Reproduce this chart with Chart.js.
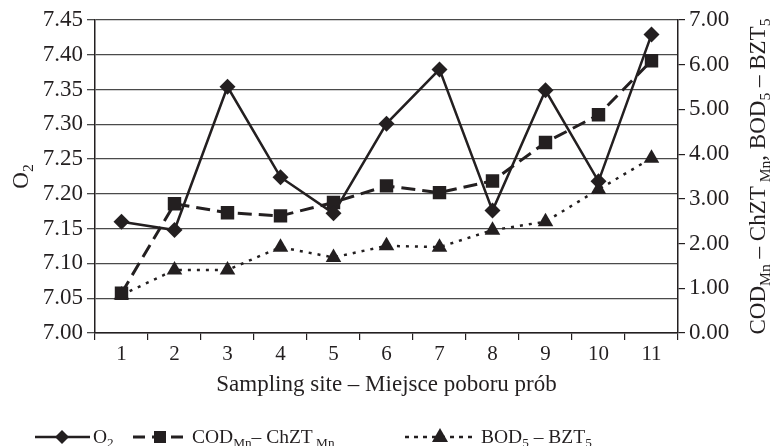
<!DOCTYPE html>
<html>
<head>
<meta charset="utf-8">
<script src="https://cdn.jsdelivr.net/npm/chart.js@4/dist/chart.umd.min.js"></script>
<style>
  html, body { margin: 0; padding: 0; background: #fff; }
  #wrap { width: 778px; height: 446px; position: relative; }
</style>
</head>
<body>
<div id="wrap"><canvas id="chart"></canvas></div>
<script>
// sampling sites 1..11
const sites = ['1', '2', '3', '4', '5', '6', '7', '8', '9', '10', '11'];
// O2 (left axis)
const o2 = [7.160, 7.148, 7.354, 7.224, 7.172, 7.301, 7.379, 7.176, 7.349, 7.218, 7.429];
// COD_Mn - ChZT_Mn (right axis)
const cod = [0.89, 2.89, 2.69, 2.62, 2.92, 3.29, 3.14, 3.40, 4.26, 4.88, 6.09];
// BOD5 - BZT5 (right axis)
const bod = [0.85, 1.41, 1.41, 1.92, 1.69, 1.95, 1.92, 2.30, 2.49, 3.21, 3.91];
// axis ticks
const leftTicks = [7.00, 7.05, 7.10, 7.15, 7.20, 7.25, 7.30, 7.35, 7.40, 7.45];
const rightTicks = [0, 1, 2, 3, 4, 5, 6, 7];

const INK = '#231f20';
const FONT = 'Liberation Serif';
const FS = 23;      // axis text
const LFS = 19.5;   // legend text

// draw text made of [text, isSubscript] parts
function richWidth(ctx, parts, size) {
    let w = 0;
    parts.forEach(p => {
        ctx.font = (p[1] ? size * 0.68 : size) + 'px "' + FONT + '"';
        w += ctx.measureText(p[0]).width;
    });
    return w;
}
function drawRich(ctx, parts, x, y, size, align) {
    let cx = align === 'center' ? x - richWidth(ctx, parts, size) / 2 : x;
    ctx.textAlign = 'left';
    ctx.textBaseline = 'alphabetic';
    ctx.fillStyle = INK;
    parts.forEach(p => {
        ctx.font = (p[1] ? size * 0.68 : size) + 'px "' + FONT + '"';
        ctx.fillText(p[0], cx, p[1] ? y + size * 0.22 : y);
        cx += ctx.measureText(p[0]).width;
    });
}
function marker(ctx, style, x, y) {
    ctx.save();
    ctx.fillStyle = INK;
    ctx.setLineDash([]);
    ctx.beginPath();
    if (style === 'diamond') {
        ctx.moveTo(x, y - 7); ctx.lineTo(x + 7, y); ctx.lineTo(x, y + 7); ctx.lineTo(x - 7, y);
    } else if (style === 'square') {
        ctx.rect(x - 6, y - 6, 12, 12);
    } else {
        ctx.moveTo(x, y - 9); ctx.lineTo(x + 8, y + 5); ctx.lineTo(x - 8, y + 5);
    }
    ctx.closePath();
    ctx.fill();
    ctx.restore();
}

const titlesAndLegend = {
    id: 'titlesAndLegend',
    afterDraw(chart) {
        const ctx = chart.ctx;
        const area = chart.chartArea;
        const midY = (area.top + area.bottom) / 2;
        ctx.save();
        // left axis title
        ctx.translate(28, midY);
        ctx.rotate(-Math.PI / 2);
        drawRich(ctx, [['O', false], ['2', true]], 0, 0, FS, 'center');
        ctx.restore();

        // right axis title
        ctx.save();
        ctx.translate(765, midY);
        ctx.rotate(-Math.PI / 2);
        drawRich(ctx, [['COD', false], ['Mn', true], [' – ChZT', false], [' Mn', true],
            [', BOD', false], ['5', true], [' – BZT', false], ['5', true]], 0, 0, FS, 'center');
        ctx.restore();

        // x axis title
        ctx.save();
        drawRich(ctx, [['Sampling site – Miejsce poboru prób', false]],
            (area.left + area.right) / 2, 391, FS, 'center');
        ctx.restore();

        // legend
        const ly = 437;
        ctx.save();
        ctx.strokeStyle = INK;
        ctx.lineWidth = 2.5;
        ctx.beginPath(); ctx.moveTo(35, ly); ctx.lineTo(90, ly); ctx.stroke();
        marker(ctx, 'diamond', 62, ly);
        drawRich(ctx, [['O', false], ['2', true]], 93, ly + 6, LFS, 'left');

        ctx.lineWidth = 3;
        ctx.setLineDash([12, 7]);
        ctx.beginPath(); ctx.moveTo(133, ly); ctx.lineTo(190, ly); ctx.stroke();
        marker(ctx, 'square', 160, ly);
        drawRich(ctx, [['COD', false], ['Mn', true], ['– ChZT', false], [' Mn', true]], 192, ly + 6, LFS, 'left');

        ctx.lineWidth = 2.5;
        ctx.setLineDash([4, 5]);
        ctx.beginPath(); ctx.moveTo(405, ly); ctx.lineTo(475, ly); ctx.stroke();
        marker(ctx, 'triangle', 440, ly);
        drawRich(ctx, [['BOD', false], ['5', true], [' – BZT', false], ['5', true]], 481, ly + 6, LFS, 'left');
        ctx.restore();
    }
};

new Chart(document.getElementById('chart'), {
    type: 'line',
    data: {
        labels: sites,
        datasets: [{
            label: 'O2',
            data: o2,
            yAxisID: 'y',
            borderColor: INK,
            backgroundColor: INK,
            borderWidth: 2.5,
            pointStyle: 'rectRot',
            pointRadius: 8,
            pointBorderWidth: 0,
            tension: 0
        }, {
            label: 'CODMn - ChZTMn',
            data: cod,
            yAxisID: 'y1',
            borderColor: INK,
            backgroundColor: INK,
            borderWidth: 3,
            borderDash: [14, 7],
            pointStyle: 'rect',
            pointRadius: 9.5,
            pointBorderWidth: 0,
            tension: 0
        }, {
            label: 'BOD5 - BZT5',
            data: bod,
            yAxisID: 'y1',
            borderColor: INK,
            backgroundColor: INK,
            borderWidth: 2.5,
            borderDash: [3, 6],
            pointStyle: 'triangle',
            pointRadius: 9,
            pointBorderWidth: 0,
            tension: 0
        }]
    },
    options: {
        responsive: true,
        maintainAspectRatio: false,
        animation: false,
        layout: { padding: { top: 20, left: 0, right: 0, bottom: 0 } },
        plugins: { legend: { display: false }, tooltip: { enabled: false } },
        scales: {
            x: {
                offset: true,
                grid: { offset: true, drawOnChartArea: false, tickLength: 7, color: INK, lineWidth: 1.2 },
                border: { color: INK, width: 1.5 },
                ticks: { color: INK, font: { family: FONT, size: FS - 2 }, padding: 2, maxRotation: 0 },
                afterFit(scale) { scale.height = 113; }
            },
            y: {
                position: 'left',
                min: 7.00,
                max: 7.45,
                afterBuildTicks(scale) { scale.ticks = leftTicks.map(v => ({ value: v })); },
                grid: { color: '#4a4a4a', lineWidth: 1.3, tickLength: 8 },
                border: { color: INK, width: 1.5 },
                ticks: {
                    color: INK, font: { family: FONT, size: FS }, padding: 4,
                    callback: v => Number(v).toFixed(2)
                },
                afterFit(scale) { scale.width = 95; }
            },
            y1: {
                position: 'right',
                min: 0,
                max: 7,
                afterBuildTicks(scale) { scale.ticks = rightTicks.map(v => ({ value: v })); },
                grid: { drawOnChartArea: false, color: INK, lineWidth: 1.2, tickLength: 7 },
                border: { color: INK, width: 1.5 },
                ticks: {
                    color: INK, font: { family: FONT, size: FS }, padding: 4,
                    callback: v => Number(v).toFixed(2)
                },
                afterFit(scale) { scale.width = 100; }
            }
        }
    },
    plugins: [titlesAndLegend]
});
</script>
</body>
</html>
